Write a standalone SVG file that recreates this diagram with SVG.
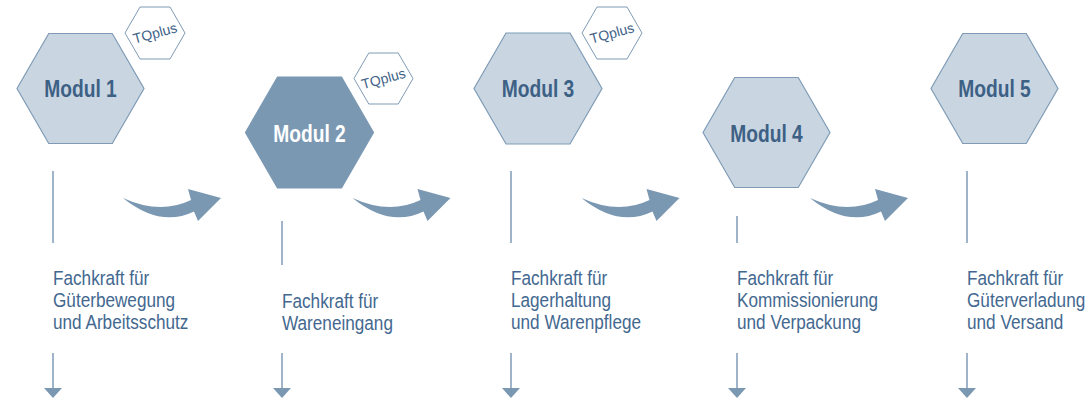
<svg xmlns="http://www.w3.org/2000/svg" width="1091" height="400" viewBox="0 0 1091 400">
<style>
.hex{fill:#c9d6e2;stroke:#7f9bb6;stroke-width:1.2}
.hexd{fill:#7b98b3;stroke:#7b98b3;stroke-width:1.2}
.tq{fill:#ffffff;stroke:#7f9bb6;stroke-width:1}
.tqt{font-family:"Liberation Sans",Arial,sans-serif;font-size:14px;fill:#3f6388}
.mod{font-family:"Liberation Sans",Arial,sans-serif;font-size:24px;font-weight:bold;fill:#3d6085;text-anchor:middle}
.modw{fill:#ffffff}
.lbl{font-family:"Liberation Sans",Arial,sans-serif;font-size:19.5px;fill:#436890}
.ln{stroke:#7f9bb6;stroke-width:1.5;fill:none}
.arr{fill:#7b98b3}
</style>
<defs>
<path id="curve" class="arr" d="M0,0 Q37,17 68,2 L65,-9 L98,0 L75,23 L71,13.5 Q37,30 0,0 Z"/>
<g id="down"><line class="ln" x1="0" y1="353" x2="0" y2="389"/><polygon class="arr" points="-9,388 9,388 0,398"/></g>
</defs>
<g id="connectors">
<use href="#curve" transform="translate(123,198)"/>
<use href="#curve" transform="translate(352.5,198)"/>
<use href="#curve" transform="translate(581.5,198)"/>
<use href="#curve" transform="translate(810,198)"/>
<line class="ln" x1="53" y1="171" x2="53" y2="243"/>
<line class="ln" x1="282" y1="221" x2="282" y2="265"/>
<line class="ln" x1="511" y1="171" x2="511" y2="243"/>
<line class="ln" x1="737" y1="216" x2="737" y2="243"/>
<line class="ln" x1="967" y1="171" x2="967" y2="243"/>
<use href="#down" transform="translate(53,0)"/>
<use href="#down" transform="translate(282,0)"/>
<use href="#down" transform="translate(511,0)"/>
<use href="#down" transform="translate(737,0)"/>
<use href="#down" transform="translate(967,0)"/>
</g>
<g id="tq1">
<polygon class="tq" points="125,33 140,7 170,7 185,33 170,59 140,59"/>
<text class="tqt" text-anchor="middle" x="155" y="38" transform="rotate(-15 155 33)">TQplus</text>
</g>
<g id="tq2">
<polygon class="tq" points="354,78.5 368.75,53 398.25,53 413,78.5 398.25,104 368.75,104"/>
<text class="tqt" text-anchor="middle" x="383.5" y="83.5" transform="rotate(-15 383.5 78.5)">TQplus</text>
</g>
<g id="tq3">
<polygon class="tq" points="582,33 597,7 627,7 642,33 627,59 597,59"/>
<text class="tqt" text-anchor="middle" x="612" y="38" transform="rotate(-15 612 33)">TQplus</text>
</g>
<g id="modul1">
<polygon class="hex" points="17,88.5 48.75,33.5 112.25,33.5 144,88.5 112.25,143.5 48.75,143.5"/>
<text class="mod" transform="translate(80.5,97) scale(0.8,1)">Modul 1</text>
<text class="lbl" transform="translate(53,0) scale(0.88,1)"><tspan x="0" y="285">Fachkraft für</tspan><tspan x="0" y="307">Güterbewegung</tspan><tspan x="0" y="329">und Arbeitsschutz</tspan></text>
</g>
<g id="modul2">
<polygon class="hexd" points="245.5,132.5 277.5,77 341.5,77 373.5,132.5 341.5,188 277.5,188"/>
<text class="mod modw" transform="translate(309.5,141.5) scale(0.8,1)">Modul 2</text>
<text class="lbl" transform="translate(282,0) scale(0.88,1)"><tspan x="0" y="308">Fachkraft für</tspan><tspan x="0" y="330">Wareneingang</tspan></text>
</g>
<g id="modul3">
<polygon class="hex" points="474,88.5 506,33 570,33 602,88.5 570,144 506,144"/>
<text class="mod" transform="translate(538,97) scale(0.8,1)">Modul 3</text>
<text class="lbl" transform="translate(511,0) scale(0.88,1)"><tspan x="0" y="285">Fachkraft für</tspan><tspan x="0" y="307">Lagerhaltung</tspan><tspan x="0" y="329">und Warenpflege</tspan></text>
</g>
<g id="modul4">
<polygon class="hex" points="703,132.5 734.75,77.5 798.25,77.5 830,132.5 798.25,187.5 734.75,187.5"/>
<text class="mod" transform="translate(766.5,141.5) scale(0.8,1)">Modul 4</text>
<text class="lbl" transform="translate(737,0) scale(0.88,1)"><tspan x="0" y="285">Fachkraft für</tspan><tspan x="0" y="307">Kommissionierung</tspan><tspan x="0" y="329">und Verpackung</tspan></text>
</g>
<g id="modul5">
<polygon class="hex" points="931,88.5 962.75,33.5 1026.25,33.5 1058,88.5 1026.25,143.5 962.75,143.5"/>
<text class="mod" transform="translate(994.5,97) scale(0.8,1)">Modul 5</text>
<text class="lbl" transform="translate(967,0) scale(0.88,1)"><tspan x="0" y="285">Fachkraft für</tspan><tspan x="0" y="307">Güterverladung</tspan><tspan x="0" y="329">und Versand</tspan></text>
</g>
</svg>
